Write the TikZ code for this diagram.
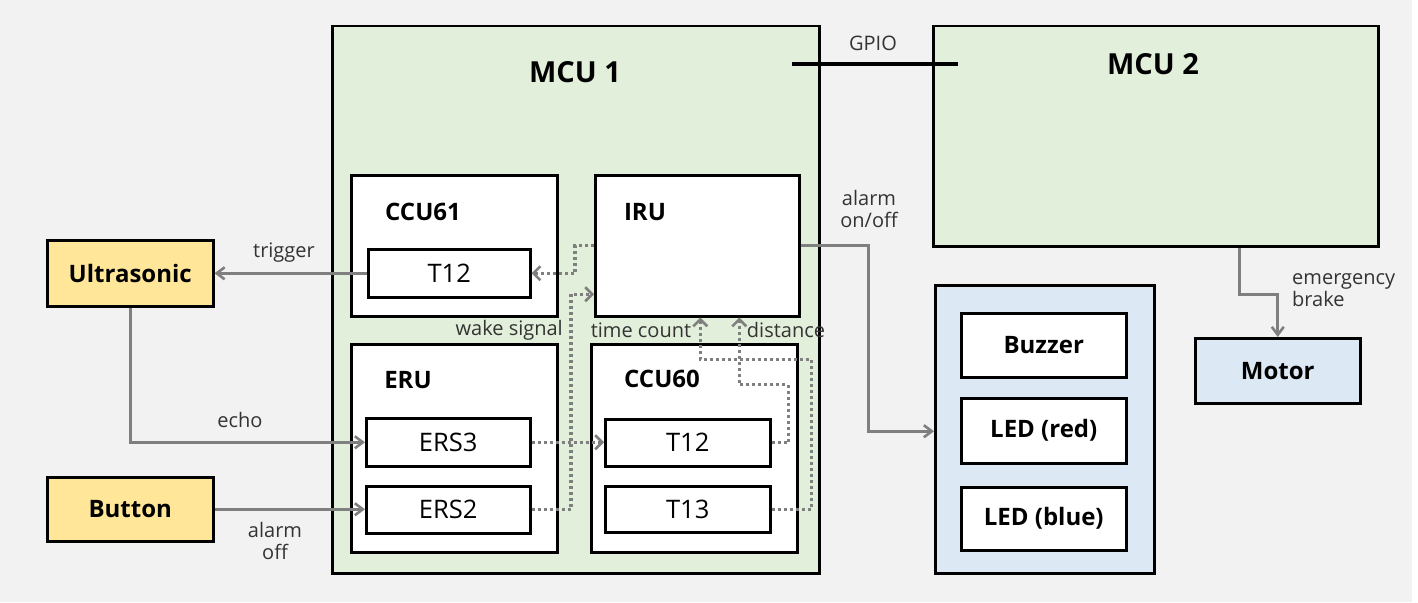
\documentclass[tikz,border=0pt]{standalone}
\usepackage{fontspec}
\setmainfont{Open Sans}
\usetikzlibrary{arrows.meta,calc}
\definecolor{bg}{HTML}{F2F2F2}
\definecolor{mcugreen}{HTML}{E2EFDA}
\definecolor{outblue}{HTML}{DDE8F5}
\definecolor{sensyellow}{HTML}{FFE699}
\definecolor{conngray}{HTML}{7F7F7F}
\definecolor{txtgray}{HTML}{333333}
\tikzset{
  box/.style={draw=black, line width=2.5pt, inner sep=0pt, anchor=north west},
  grp/.style={box, fill=white},
  sub/.style={box, fill=white, font=\fontsize{25.5}{28}\selectfont},
  item/.style={box, fill=white, font=\fontsize{24}{28}\selectfont\bfseries},
  title/.style={font=\fontsize{24}{28}\selectfont\bfseries, inner sep=0pt},
  bigtitle/.style={font=\fontsize{29}{32}\selectfont\bfseries, inner sep=0pt},
  lbl/.style={font=\fontsize{20}{25}\selectfont, text=txtgray, inner sep=0pt, align=center},
  conn/.style={draw=conngray, line width=3pt, -{Straight Barb[length=8pt,width=12pt,line width=2.6pt]}},
  dconn/.style={draw=conngray, line width=3.2pt, dash pattern=on 3pt off 3pt, -{Straight Barb[length=7pt,width=14pt,line width=2.6pt]}},
}
\begin{document}
\begin{tikzpicture}[x=1pt,y=-1pt]
\fill[bg] (0,0) rectangle (1412,602);
\fill[white] (1412,0) rectangle (1418,602);
\useasboundingbox (0,0) rectangle (1418,602);

% big boxes
\node[box, fill=mcugreen, minimum width=487pt, minimum height=547pt] (mcu1) at (331,25) {};
\node[box, fill=mcugreen, minimum width=445pt, minimum height=220pt] (mcu2) at (932,25) {};
\node[bigtitle] (mcu1t) at (575,72) {MCU 1};
\node[bigtitle] (mcu2t) at (1153,64) {MCU 2};

% GPIO
\draw[line width=4pt] (792,64) coordinate (g1) -- (958,64) coordinate (g2);
\node[lbl] (gpio) at (873,43) {GPIO};

% groups in MCU1
\node[grp, minimum width=206pt, minimum height=141pt] (ccu61) at (350,174) {};
\node[title] (ccu61t) at (423,212) {CCU61};
\node[sub, minimum width=162pt, minimum height=48pt] (t12a) at (367,248) {T12};

\node[grp, minimum width=204pt, minimum height=141pt] (iru) at (594,174) {};
\node[title] (irut) at (645,212) {IRU};

\node[grp, minimum width=206pt, minimum height=208pt] (eru) at (350,343) {};
\node[title] (erut) at (408,380) {ERU};
\node[sub, minimum width=164pt, minimum height=48pt] (ers3) at (365,417) {ERS3};
\node[sub, minimum width=164pt, minimum height=47pt] (ers2) at (365,485) {ERS2};

\node[grp, minimum width=206pt, minimum height=208pt] (ccu60) at (590,343) {};
\node[title] (ccu60t) at (662,379) {CCU60};
\node[sub, minimum width=165pt, minimum height=47pt] (t12b) at (604,418) {T12};
\node[sub, minimum width=165pt, minimum height=46pt] (t13) at (604,485) {T13};

% sensors
\node[item, fill=sensyellow, minimum width=166pt, minimum height=66pt] (ultra) at (46,239) {Ultrasonic};
\node[item, fill=sensyellow, minimum width=166pt, minimum height=64pt] (button) at (46,476) {Button};

% outputs
\node[box, fill=outblue, minimum width=219pt, minimum height=288pt] (outbox) at (934,284) {};
\node[item, minimum width=165pt, minimum height=64pt] (buzzer) at (960,312) {Buzzer};
\node[item, minimum width=165pt, minimum height=65pt] (ledr) at (960,397) {LED (red)};
\node[item, minimum width=165pt, minimum height=63pt] (ledb) at (960,486) {LED (blue)};
\node[item, fill=outblue, minimum width=165pt, minimum height=65pt] (motor) at (1194,337) {Motor};

% solid connectors
\draw[conn] (t12a.west) -- (t12a.west -| ultra.east);
\node[lbl] (ltrig) at (284,253) {trigger};
\draw[conn] (ultra.south) |- (ers3.west);
\node[lbl] (lecho) at (240,420) {echo};
\draw[conn] (button.east) -- (button.east -| ers2.west);
\node[lbl] (loff) at (275,541) {alarm\\[-3pt]off};
\draw[conn] (iru.east) -- ++(68,0) |- ($(outbox.west)+(0,2)$);
\node[lbl] (lonoff) at (869,209) {alarm\\[-3pt]on/off};
\draw[conn] ($(mcu2.south)+(84,0)$) -- ++(0,47) -| (motor.north);
\node[lbl, align=left, anchor=west] (lbrake) at (1292,290) {emergency\\[-3pt]brake};

% dotted connectors
\draw[dconn] (iru.west) -- ++(-19,0) |- (t12a.east);
\draw[dconn] (ers2.east) -| ($(iru.west)+(-23,48.5)$) -- ($(iru.west)+(0,48.5)$);
\draw[dconn] (ers3.east) -- (ers3.east -| t12b.west);
\draw[dconn] (t12b.east) -| ($(iru.south)+(91,67)$) -| ($(iru.south)+(42,0)$);
\draw[dconn] (t13.east) -| ($(iru.south)+(114,42)$) -| ($(iru.south)+(3,0)$);
\node[lbl, anchor=east] (lwake) at (563,330) {wake signal};
\node[lbl] (ltime) at (641,330) {time count};
\node[lbl] (ldist) at (786,330) {distance};
\end{tikzpicture}
\end{document}
